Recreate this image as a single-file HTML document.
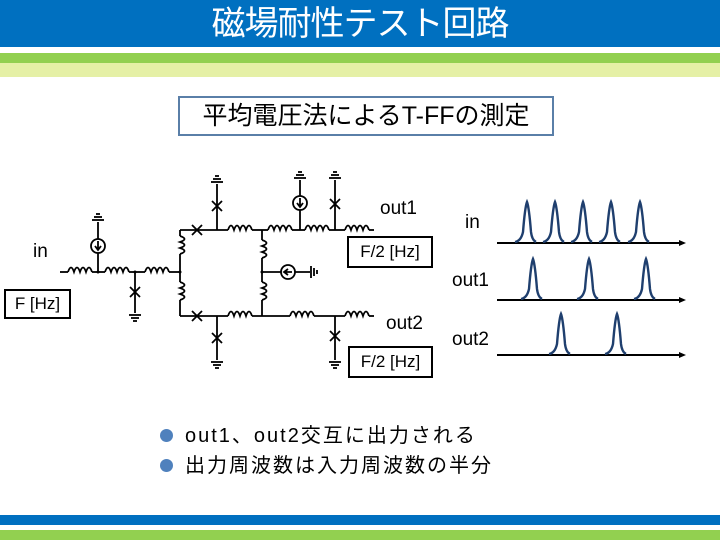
<!DOCTYPE html>
<html><head><meta charset="utf-8"><style>
body{margin:0;width:720px;height:540px;background:#fff;position:relative;overflow:hidden;font-family:"Liberation Sans","Noto Sans CJK JP",sans-serif}
.a{position:absolute}
</style></head><body>
<div class="a" style="left:0;top:0;width:720px;height:47px;background:#0070c0"></div>
<div class="a" style="left:0;top:53px;width:720px;height:10px;background:#92d050"></div>
<div class="a" style="left:0;top:63px;width:720px;height:14px;background:#e5f0a6"></div>
<div class="a" style="left:0;top:3px;width:720px;text-align:center;color:#fff;font-size:34px;line-height:42px;letter-spacing:-1px">磁場耐性テスト回路</div>
<div class="a" style="left:0;top:515px;width:720px;height:10px;background:#0070c0"></div>
<div class="a" style="left:0;top:530px;width:720px;height:10px;background:#92d050"></div>
<div class="a" style="left:178px;top:96px;width:372px;height:36px;border:2px solid #5a7fa8;font-size:25px;line-height:36px;text-align:center;color:#000;white-space:nowrap;letter-spacing:0px">平均電圧法によるT-FFの測定</div>
<svg class="a" style="left:0;top:0" width="720" height="540" viewBox="0 0 720 540">
<defs>
<path id="L" d="M0 0 q3 -9 6 0 q3 -9 6 0 q3 -9 6 0 q3 -9 6 0" fill="none" stroke="#000" stroke-width="1.8"/>
<path id="LV" d="M0 0 q9 3 0 6 q9 3 0 6 q9 3 0 6" fill="none" stroke="#000" stroke-width="1.8"/>
<g id="G"><line x1="-6" y1="0" x2="6" y2="0"/><line x1="-4" y1="3" x2="4" y2="3"/><line x1="-2" y1="6" x2="2" y2="6"/></g>
<g id="GU"><line x1="-6" y1="0" x2="6" y2="0"/><line x1="-4" y1="-3" x2="4" y2="-3"/><line x1="-2" y1="-6" x2="2" y2="-6"/></g>
<g id="X"><line x1="-5" y1="-5" x2="5" y2="5"/><line x1="-5" y1="5" x2="5" y2="-5"/></g>
</defs>
<g stroke="#000" stroke-width="1.8" fill="none">
<line x1="60" y1="272" x2="68" y2="272"/><line x1="92" y1="272" x2="105" y2="272"/><line x1="129" y1="272" x2="145" y2="272"/><line x1="169" y1="272" x2="180" y2="272"/>
<use href="#L" x="68" y="272"/><use href="#L" x="105" y="272"/><use href="#L" x="145" y="272"/>
<line x1="98" y1="272" x2="98" y2="222"/><circle cx="98" cy="246" r="7" fill="#fff"/><path d="M98 241v8M95 246l3 4 3-4" /><use href="#GU" x="98" y="220"/>
<line x1="135" y1="272" x2="135" y2="313"/><use href="#X" x="135" y="292"/><use href="#G" x="135" y="315"/>
<line x1="180" y1="230" x2="180" y2="236"/><use href="#LV" x="180" y="236"/><line x1="180" y1="254" x2="180" y2="282"/><use href="#LV" x="180" y="282"/><line x1="180" y1="300" x2="180" y2="316"/>
<line x1="262" y1="230" x2="262" y2="240"/><use href="#LV" x="262" y="240"/><line x1="262" y1="258" x2="262" y2="282"/><use href="#LV" x="262" y="282"/><line x1="262" y1="300" x2="262" y2="316"/>
<line x1="180" y1="230" x2="228" y2="230"/><use href="#L" x="228" y="230"/><line x1="252" y1="230" x2="268" y2="230"/><use href="#L" x="268" y="230"/><line x1="292" y1="230" x2="305" y2="230"/><use href="#L" x="305" y="230"/><line x1="329" y1="230" x2="345" y2="230"/><use href="#L" x="345" y="230"/><line x1="369" y1="230" x2="374" y2="230"/>
<use href="#X" x="197" y="230"/>
<line x1="217" y1="230" x2="217" y2="184"/><use href="#X" x="217" y="206"/><use href="#GU" x="217" y="182"/>
<line x1="300" y1="230" x2="300" y2="180"/><circle cx="300" cy="203" r="7" fill="#fff"/><path d="M300 198v8M297 203l3 4 3-4"/><use href="#GU" x="300" y="178"/>
<line x1="335" y1="230" x2="335" y2="180"/><use href="#X" x="335" y="204"/><use href="#GU" x="335" y="178"/>
<line x1="262" y1="272" x2="310" y2="272"/><circle cx="288" cy="272" r="7" fill="#fff"/><path d="M284 272h8M288 269l-4 3 4 3"/>
<line x1="311" y1="266" x2="311" y2="278"/><line x1="314" y1="268" x2="314" y2="276"/><line x1="317" y1="270" x2="317" y2="274"/>
<line x1="180" y1="316" x2="228" y2="316"/><use href="#L" x="228" y="316"/><line x1="252" y1="316" x2="290" y2="316"/><use href="#L" x="290" y="316"/><line x1="314" y1="316" x2="345" y2="316"/><use href="#L" x="345" y="316"/><line x1="369" y1="316" x2="374" y2="316"/>
<use href="#X" x="197" y="316"/>
<line x1="217" y1="316" x2="217" y2="360"/><use href="#X" x="217" y="338"/><use href="#G" x="217" y="362"/>
<line x1="335" y1="316" x2="335" y2="360"/><use href="#X" x="335" y="336"/><use href="#G" x="335" y="362"/>
</g>
<g fill="#000"><circle cx="180" cy="272" r="1.5"/><circle cx="262" cy="272" r="1.5"/><circle cx="98" cy="272" r="1.5"/><circle cx="135" cy="272" r="1.5"/></g>
<g stroke="#000" stroke-width="2"><line x1="497" y1="243" x2="680" y2="243"/><line x1="497" y1="300" x2="680" y2="300"/><line x1="497" y1="355" x2="680" y2="355"/></g>
<g fill="#000"><path d="M686 243l-7-3v6z"/><path d="M686 300l-7-3v6z"/><path d="M686 355l-7-3v6z"/></g>
<g fill="none" stroke="#1f3f6e" stroke-width="2.4">
<path id="P" d="M-12 0 q6 -1 8 -10 q2 -25 4 -30 q2 5 4 30 q1 8 5 10" transform="translate(527,242)"/>
<use href="#P" x="28"/><use href="#P" x="56"/><use href="#P" x="84"/><use href="#P" x="113"/>
<use href="#P" x="6" y="57"/><use href="#P" x="62" y="57"/><use href="#P" x="119" y="57"/>
<use href="#P" x="34" y="112"/><use href="#P" x="90" y="112"/>
</g>
</svg>
<div class="a" style="left:380px;top:198px;font-size:19px">out1</div>
<div class="a" style="left:347px;top:236px;width:82px;height:28px;border:2px solid #000;font-size:17px;line-height:28px;text-align:center">F/2 [Hz]</div>
<div class="a" style="left:33px;top:241px;font-size:19px">in</div>
<div class="a" style="left:4px;top:289px;width:63px;height:26px;border:2px solid #000;font-size:17px;line-height:26px;text-align:center">F [Hz]</div>
<div class="a" style="left:386px;top:313px;font-size:19px">out2</div>
<div class="a" style="left:348px;top:346px;width:81px;height:28px;border:2px solid #000;font-size:17px;line-height:28px;text-align:center">F/2 [Hz]</div>
<div class="a" style="left:465px;top:212px;font-size:19px">in</div>
<div class="a" style="left:452px;top:270px;font-size:19px">out1</div>
<div class="a" style="left:452px;top:329px;font-size:19px">out2</div>
<div class="a" style="left:160px;top:421px;font-size:20px;line-height:30px;white-space:nowrap;letter-spacing:2px">
<div><span style="display:inline-block;width:13px;height:13px;border-radius:50%;background:#4f81bd;margin:0 12px 0 0"></span>out1、out2交互に出力される</div>
<div><span style="display:inline-block;width:13px;height:13px;border-radius:50%;background:#4f81bd;margin:0 12px 0 0"></span>出力周波数は入力周波数の半分</div>
</div>
</body></html>
